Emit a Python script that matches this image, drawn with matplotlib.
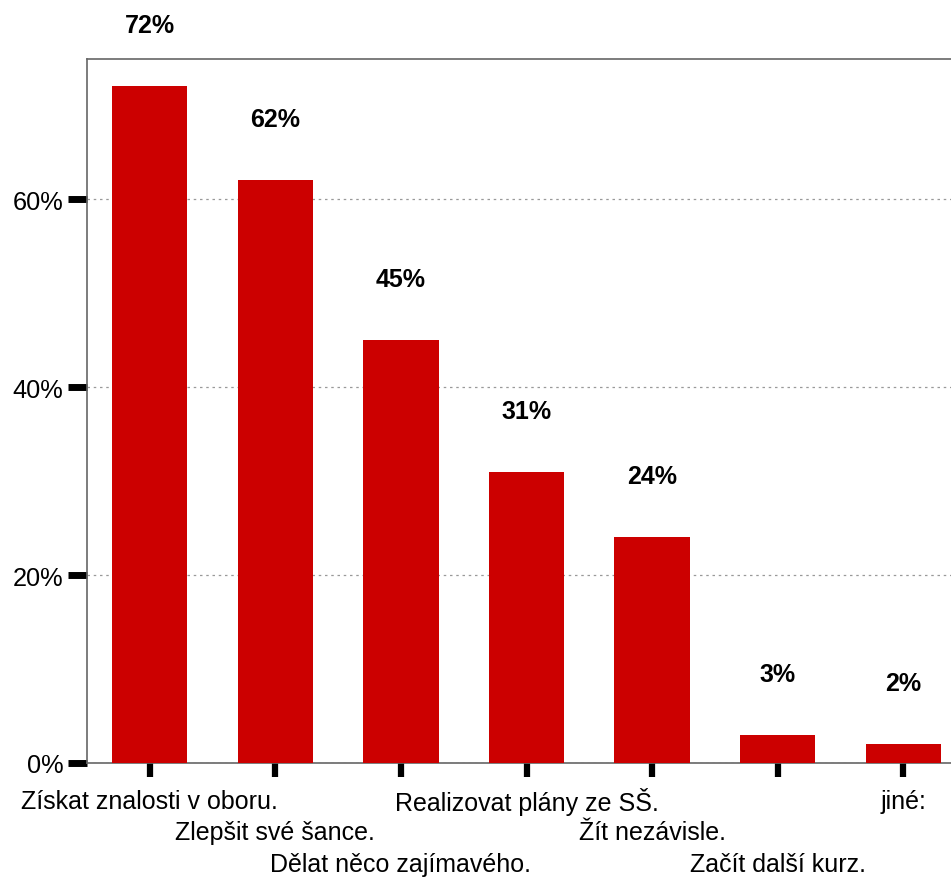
import matplotlib
matplotlib.use("Agg")
import matplotlib.pyplot as plt
from matplotlib.ticker import FuncFormatter

categories = ["Získat znalosti v oboru.", "Zlepšit své šance.", "Dělat něco zajímavého.",
              "Realizovat plány ze SŠ.", "Žít nezávisle.", "Začít další kurz.", "jiné:"]
values = [72, 62, 45, 31, 24, 3, 2]
yticks = [0, 20, 40, 60]

plt.rcParams['font.family'] = ['Liberation Sans', 'DejaVu Sans']

W, H = 951, 879
fig = plt.figure(figsize=(W / 100, H / 100), dpi=100)
left, right, top, bottom = 87, 966, 60, 764
ax = fig.add_axes([left / W, 1 - bottom / H, (right - left) / W, (bottom - top) / H])

x = list(range(len(values)))
ax.bar(x, values, width=0.6, color="#cc0000", zorder=3)
ax.set_xlim(-0.5, len(values) - 0.5)
ax.set_ylim(0, 74.9)

ax.set_yticks(yticks)
ax.yaxis.set_major_formatter(FuncFormatter(lambda v, p: f"{v:.0f}%"))
ax.tick_params(axis="y", length=14, width=5, labelsize=18.3, pad=3, color="black")
ax.set_xticks(x)
ax.set_xticklabels([""] * len(x))
ax.tick_params(axis="x", length=10, width=4.5, color="black")

ax.grid(axis="y", linestyle=(0, (2, 3)), color="#999999", linewidth=0.9, zorder=0)
for s in ["left", "top", "bottom"]:
    ax.spines[s].set_color("#666666")
    ax.spines[s].set_linewidth(1.2)
ax.spines["right"].set_visible(False)

for i, v in enumerate(values):
    ax.annotate(f"{v}%", xy=(i, v), xytext=(0, 61 * 0.72), textcoords="offset points",
                ha="center", va="center", fontsize=18, fontweight="bold")

for i, c in enumerate(categories):
    row = i % 3
    ax.annotate(c, xy=(i, 0), xycoords=ax.get_xaxis_transform(),
                xytext=(0, -(38 + 31.5 * row) * 0.72), textcoords="offset points",
                ha="center", va="center", fontsize=18)

fig.savefig("out.png", dpi=100)
